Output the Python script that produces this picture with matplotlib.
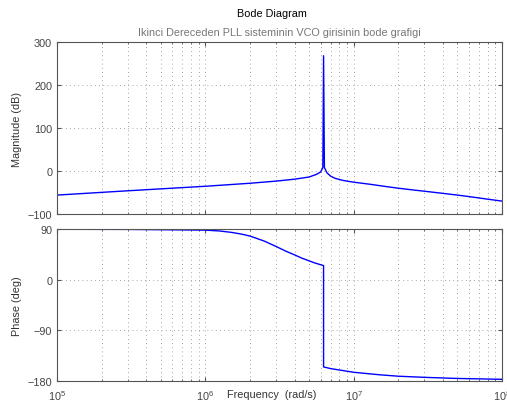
import numpy as np
import matplotlib.pyplot as plt
from matplotlib.ticker import LogLocator, NullFormatter

plt.rcParams['font.family'] = ['Liberation Sans', 'DejaVu Sans']

# magnitude curve
freq_mag = [1e5, 3e5, 1e6, 2e6, 3e6, 4e6, 5e6, 5.6e6, 6.0e6, 6.2e6, 6.27e6,
            6.35e6, 6.6e6, 7e6, 7.5e6, 8.5e6, 1e7, 1.3e7, 1.6e7, 2e7, 2.5e7,
            3e7, 4e7, 5e7, 6e7, 8e7, 1e8]
mag_db = [-56, -46, -35.5, -28.5, -23.5, -19, -14, -8, -2, 8, 268,
          8, -4, -12, -17, -22, -26, -31, -35.5, -40, -44,
          -47, -52, -56, -59.5, -65.5, -70]

# phase curve
freq_phase = [1e5, 3e5, 1e6, 1.25e6, 1.5e6, 1.75e6, 2e6, 2.5e6, 3e6, 3.5e6,
              4e6, 4.5e6, 5e6, 5.5e6, 6e6, 6.27e6,
              6.27e6, 7e6, 1e7, 1.5e7, 2e7, 3e7, 5e7, 1e8]
phase_deg = [89.5, 89.3, 88, 86.5, 84, 81, 77.5, 68.5, 59, 50.5,
             44, 38, 33.5, 29.5, 26.5, 25,
             -155, -158, -164.5, -169, -171.5, -173.5, -175.5, -177]

mag_ticks = [-100, 0, 100, 200, 300]
phase_ticks = [-180, -90, 0, 90]

fig = plt.figure(figsize=(5.07, 4.10), dpi=100)
ax1 = fig.add_axes([0.1124, 0.4756, 0.8777, 0.4195])
ax2 = fig.add_axes([0.1124, 0.0683, 0.8777, 0.3707])

ax1.plot(freq_mag, mag_db, color='blue', lw=1)
ax2.plot(freq_phase, phase_deg, color='blue', lw=1)

for ax in (ax1, ax2):
    ax.set_xscale('log')
    ax.set_xlim(1e5, 1e8)
    ax.xaxis.set_major_locator(LogLocator(base=10))
    ax.xaxis.set_minor_locator(LogLocator(base=10, subs=np.arange(2, 10)))
    ax.xaxis.set_minor_formatter(NullFormatter())
    ax.tick_params(which='both', direction='in', top=True, right=True,
                   colors='#555555', labelcolor='#444444', labelsize=7.8)
    ax.tick_params(which='major', length=3)
    ax.tick_params(which='minor', length=1.5)
    for s in ax.spines.values():
        s.set_color('#555555')
        s.set_linewidth(0.8)
    ax.grid(True, which='major', color='#888888', ls=(0, (1, 4)), lw=0.6)
    ax.grid(True, which='minor', axis='x', color='#888888', ls=(0, (1, 4)), lw=0.6)

ax1.set_ylim(-100, 300)
ax1.set_yticks(mag_ticks)
ax1.tick_params(axis='x', which='both', labelbottom=False)
ax1.set_ylabel('Magnitude (dB)', fontsize=7.8, color='#333333', labelpad=4)

ax2.set_ylim(-180, 90)
ax2.set_yticks(phase_ticks)
ax2.set_ylabel('Phase (deg)', fontsize=7.8, color='#333333', labelpad=4)
ax2.tick_params(axis='x', pad=5)

ax1.set_title('Ikinci Dereceden PLL sisteminin VCO girisinin bode grafigi',
              fontsize=7.8, color='#777777', pad=5)
fig.text(272 / 507, 1 - 14 / 410, 'Bode Diagram', fontsize=7.8,
         ha='center', va='center', color='black')
fig.text(272 / 507, 1 - 395 / 410, 'Frequency  (rad/s)', fontsize=7.8,
         ha='center', va='center', color='#333333')

fig.savefig('out.png', dpi=100)
